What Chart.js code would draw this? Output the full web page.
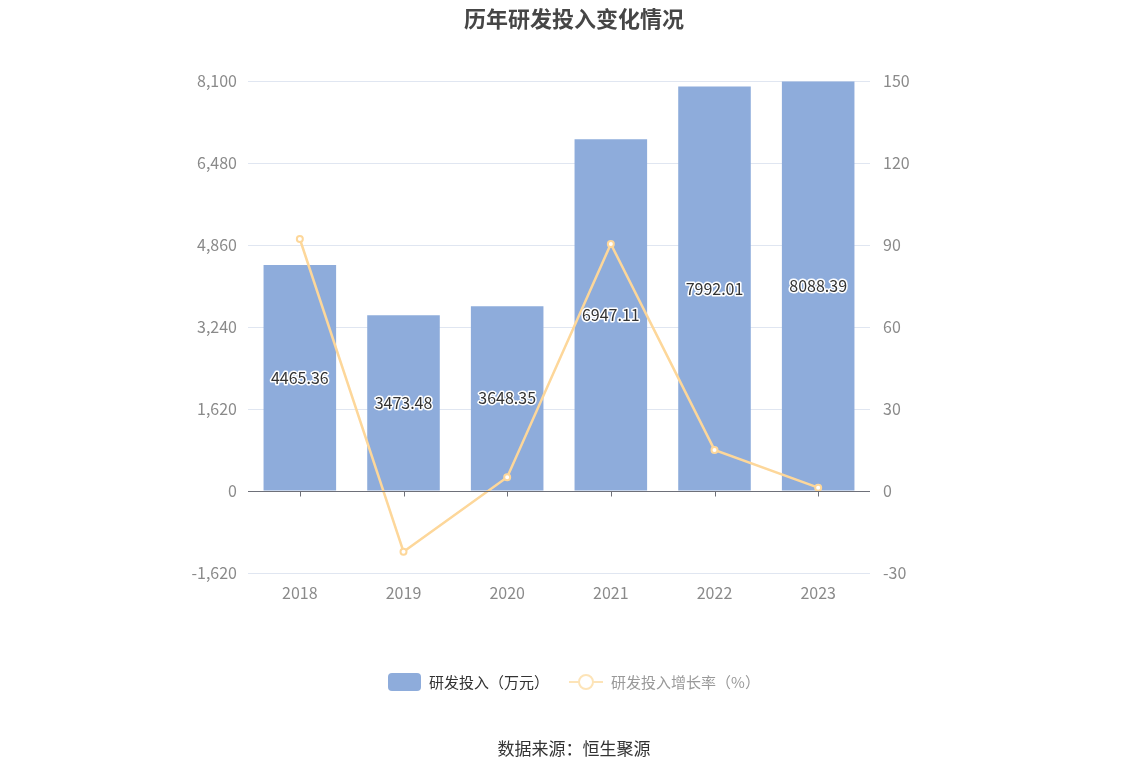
<!DOCTYPE html>
<html>
<head>
<meta charset="utf-8">
<script src="https://cdn.jsdelivr.net/npm/chart.js@4.4.0/dist/chart.umd.min.js"></script>
<style>
  html, body { margin: 0; padding: 0; background: #fff; }
  body { font-family: "Noto Sans CJK SC", "Noto Sans", sans-serif; }
  #wrap { position: relative; width: 1148px; height: 776px; }
  #title { position: absolute; left: 0; right: 0; top: 1px; text-align: center;
    font-size: 22px; font-weight: bold; color: #464646; }
  #legend { position: absolute; left: 0; right: 0; top: 671px; display: flex;
    justify-content: center; align-items: center; font-size: 15px; }
  .swatch { width: 33px; height: 18px; border-radius: 4px; background: #8eacdb; margin-right: 8px; }
  .lineMark { position: relative; width: 34px; height: 18px; margin: 0 8px 0 20px; }
  .lineMark .ln { position: absolute; left: 0; right: 0; top: 8px; height: 2px; background: #fde4b8; }
  .lineMark .ci { position: absolute; left: 9px; top: 1px; width: 12px; height: 12px;
    border: 2px solid #fde4b8; border-radius: 50%; background: #fff; }
  #source { position: absolute; left: 0; right: 0; top: 735px; text-align: center;
    font-size: 17px; color: #333; }
</style>
</head>
<body>
<div id="wrap">
  <canvas id="rdChart" width="1148" height="776"></canvas>
  <div id="title">历年研发投入变化情况</div>
  <div id="legend">
    <div class="swatch"></div><span style="color:#333">研发投入（万元）</span>
    <div class="lineMark"><div class="ln"></div><div class="ci"></div></div><span style="color:#999">研发投入增长率（%）</span>
  </div>
  <div id="source">数据来源：恒生聚源</div>
</div>
<script>
// 차트 데이터
var years = ['2018', '2019', '2020', '2021', '2022', '2023'];
var rdSpend = [4465.36, 3473.48, 3648.35, 6947.11, 7992.01, 8088.39];
var growthRate = [92.2, -22.21, 5.03, 90.41, 15.04, 1.21];
var leftRange = [-1620, 8100, 1620];
var rightRange = [-30, 150, 30];

var fontFamily = '"Noto Sans CJK SC", "Noto Sans", sans-serif';

// 0 기준선과 눈금, 막대 안의 값 표시
var overlayPlugin = {
  id: 'overlay',
  afterDatasetsDraw: function(chart) {
    var ctx = chart.ctx;
    var area = chart.chartArea;
    var x = chart.scales.x;
    var y0 = Math.round(chart.scales.y.getPixelForValue(0)) + 0.5;
    ctx.save();
    ctx.strokeStyle = '#6e7079';
    ctx.lineWidth = 1;
    ctx.beginPath();
    ctx.moveTo(area.left, y0);
    ctx.lineTo(area.right, y0);
    for (var i = 0; i < years.length; i++) {
      var px = Math.round(x.getPixelForValue(i)) + 0.5;
      ctx.moveTo(px, y0);
      ctx.lineTo(px, y0 + 5);
    }
    ctx.stroke();

    // 막대 데이터셋은 두번째(index 1)
    var meta = chart.getDatasetMeta(1);
    ctx.font = '16px ' + fontFamily;
    ctx.textAlign = 'center';
    ctx.textBaseline = 'middle';
    ctx.lineJoin = 'round';
    meta.data.forEach(function(bar, i) {
      var cy = (bar.y + bar.base) / 2;
      var label = rdSpend[i].toFixed(2);
      ctx.strokeStyle = '#fff';
      ctx.lineWidth = 3;
      ctx.strokeText(label, bar.x, cy);
      ctx.fillStyle = '#333';
      ctx.fillText(label, bar.x, cy);
    });
    ctx.restore();
  }
};

var ctx = document.getElementById('rdChart');
var rdChart = new Chart(ctx, {
  type: 'bar',
  data: {
    labels: years,
    datasets: [{
      type: 'line',
      label: '研发投入增长率（%）',
      data: growthRate,
      yAxisID: 'y1',
      borderColor: '#fdd79a',
      borderWidth: 2.5,
      pointRadius: 3,
      pointBorderWidth: 2,
      pointBackgroundColor: '#fff',
      pointBorderColor: '#fdd79a',
      tension: 0,
      order: 0
    }, {
      label: '研发投入（万元）',
      data: rdSpend,
      yAxisID: 'y',
      backgroundColor: '#8eacdb',
      barPercentage: 0.7,
      categoryPercentage: 1,
      order: 1
    }]
  },
  plugins: [overlayPlugin],
  options: {
    responsive: false,
    animation: false,
    layout: { padding: { top: 81, bottom: 163, left: 0, right: 0 } },
    plugins: {
      legend: { display: false },
      title: { display: false },
      tooltip: { enabled: false }
    },
    scales: {
      x: {
        offset: true,
        grid: { display: false },
        border: { display: false },
        ticks: { color: '#8a8a8a', font: { size: 16, family: fontFamily }, padding: 2 },
        afterFit: function(scale) { scale.height = 40; }
      },
      y: {
        position: 'left',
        min: leftRange[0],
        max: leftRange[1],
        grid: { color: '#e0e6f1', drawTicks: false },
        border: { display: false },
        ticks: {
          stepSize: leftRange[2],
          color: '#8a8a8a',
          padding: 11,
          font: { size: 16, family: fontFamily },
          callback: function(v) { return v.toLocaleString('en-US'); }
        },
        afterFit: function(scale) { scale.width = 248; }
      },
      y1: {
        position: 'right',
        min: rightRange[0],
        max: rightRange[1],
        grid: { drawOnChartArea: false, drawTicks: false },
        border: { display: false },
        ticks: {
          stepSize: rightRange[2],
          color: '#8a8a8a',
          padding: 13,
          font: { size: 16, family: fontFamily }
        },
        afterFit: function(scale) { scale.width = 278; }
      }
    }
  }
});
</script>
</body>
</html>
